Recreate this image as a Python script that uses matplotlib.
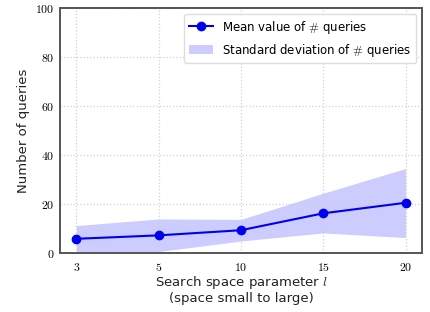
import matplotlib
matplotlib.use("Agg")
import matplotlib.pyplot as plt
import numpy as np

params = ["3", "5", "10", "15", "20"]
mean_q = [5.8, 7.2, 9.3, 16.2, 20.5]
upper_q = [11.2, 13.9, 13.7, 24.4, 34.5]
lower_q = [0.6, 0.6, 4.9, 8.2, 6.3]

plt.rcParams['mathtext.fontset'] = 'cm'
plt.rcParams['font.family'] = 'DejaVu Sans'

fig = plt.figure(figsize=(4.3, 3.12), dpi=100)
ax = fig.add_axes([60/430, 1-253/312, 362/430, 245/312])

x = np.arange(len(params))
band = ax.fill_between(x, lower_q, upper_q, color='#ccccff', linewidth=0,
                       label=r'Standard deviation of $\#$ queries')
line, = ax.plot(x, mean_q, '-o', color='#0000ee', markersize=6, linewidth=1.5,
                label=r'Mean value of $\#$ queries')

ax.set_xlim(-0.2, 4.2)
ax.set_ylim(0, 100)
ax.set_xticks(x)
ax.set_xticklabels([f'${p}$' for p in params])
ax.set_yticks(range(0, 101, 20))
ax.set_yticklabels([f'${v}$' for v in range(0, 101, 20)])
ax.tick_params(length=0, labelsize=8.5, pad=6)
ax.tick_params(axis='y', pad=4)
ax.grid(True, linestyle=':', color='#d0d0d0', linewidth=0.9)
for s in ax.spines.values():
    s.set_color('#555555')
    s.set_linewidth(1.4)

ax.set_xlabel('Search space parameter $l$\n(space small to large)', fontsize=9.5, color='#222222', labelpad=0, linespacing=1.05)
ax.set_ylabel('Number of queries', fontsize=9.5, color='#222222')

ax.legend(handles=[line, band], loc='upper right', fontsize=8.5, framealpha=1, edgecolor='#dddddd', fancybox=True)

fig.savefig('out.png', dpi=100)
